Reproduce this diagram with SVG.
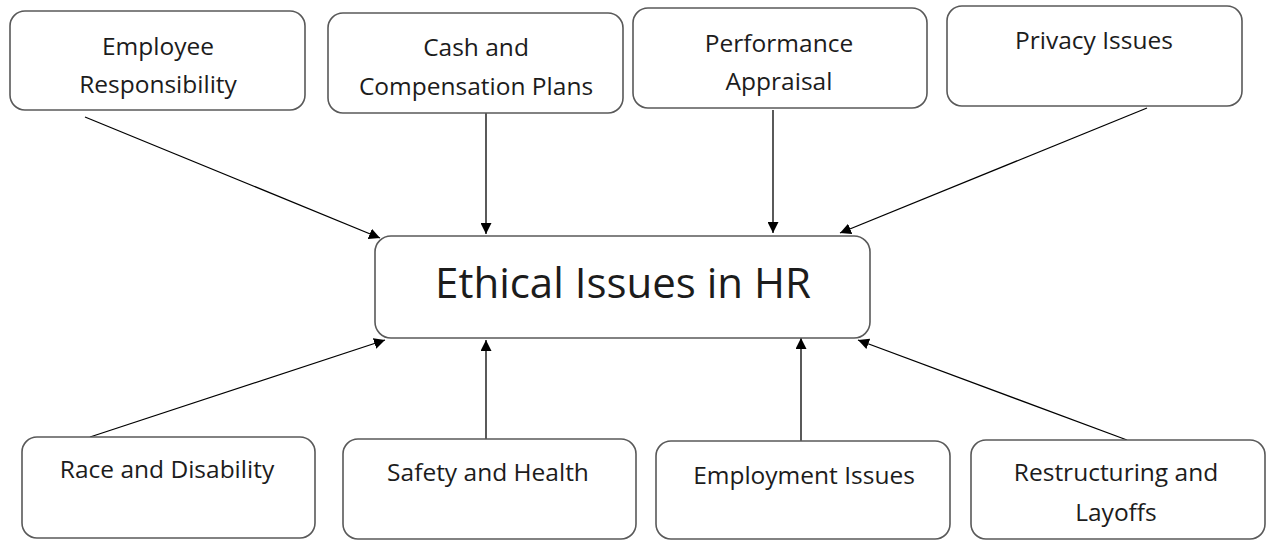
<svg xmlns="http://www.w3.org/2000/svg" width="1269" height="540" viewBox="0 0 1269 540">
<defs>
<marker id="ah" viewBox="0 0 10 10" refX="10" refY="5" markerWidth="11" markerHeight="11" markerUnits="userSpaceOnUse" orient="auto">
<path d="M0,0 L10,5 L0,10 z" fill="#000"/>
</marker>
<style>
.box{fill:#fff;stroke:#595959;stroke-width:1.6}
.t{font-family:"Open Sans","Liberation Sans",sans-serif;font-size:24.5px;fill:#1c1c1c;text-anchor:middle}
.big{font-size:42px}
.c{stroke:#000;stroke-width:1.3;fill:none;marker-end:url(#ah)}
</style>
</defs>
<rect width="1269" height="540" fill="#fff"/>
<g id="connectors">
<line class="c" x1="85" y1="117" x2="380" y2="238"/>
<line class="c" x1="486" y1="113" x2="486" y2="234"/>
<line class="c" x1="773" y1="110" x2="773" y2="233"/>
<line class="c" x1="1147" y1="108" x2="840" y2="233"/>
<line class="c" x1="90" y1="437" x2="385" y2="340"/>
<line class="c" x1="486" y1="440" x2="486" y2="340"/>
<line class="c" x1="801" y1="441" x2="801" y2="338"/>
<line class="c" x1="1127" y1="440" x2="858" y2="340"/>
</g>
<g id="employee-responsibility"><rect class="box" x="10" y="11" width="295" height="99" rx="15"/><text class="t" x="158" y="55">Employee</text><text class="t" x="158" y="93">Responsibility</text></g>
<g id="cash-compensation"><rect class="box" x="328" y="13" width="295" height="100" rx="15"/><text class="t" x="476" y="56">Cash and</text><text class="t" x="476" y="95">Compensation Plans</text></g>
<g id="performance-appraisal"><rect class="box" x="633" y="8" width="294" height="100" rx="15"/><text class="t" x="779" y="52">Performance</text><text class="t" x="779" y="90">Appraisal</text></g>
<g id="privacy-issues"><rect class="box" x="947" y="6" width="295" height="100" rx="15"/><text class="t" x="1094" y="49">Privacy Issues</text></g>
<g id="ethical-issues"><rect class="box" x="375" y="236" width="495" height="102" rx="16"/><text class="t big" x="623" y="298">Ethical Issues in HR</text></g>
<g id="race-disability"><rect class="box" x="22" y="437" width="293" height="101" rx="15"/><text class="t" x="167" y="478">Race and Disability</text></g>
<g id="safety-health"><rect class="box" x="343" y="439" width="293" height="100" rx="15"/><text class="t" x="488" y="481">Safety and Health</text></g>
<g id="employment-issues"><rect class="box" x="656" y="441" width="294" height="98" rx="15"/><text class="t" x="804" y="484">Employment Issues</text></g>
<g id="restructuring-layoffs"><rect class="box" x="971" y="440" width="294" height="99" rx="15"/><text class="t" x="1116" y="481">Restructuring and</text><text class="t" x="1116" y="521">Layoffs</text></g>
</svg>
